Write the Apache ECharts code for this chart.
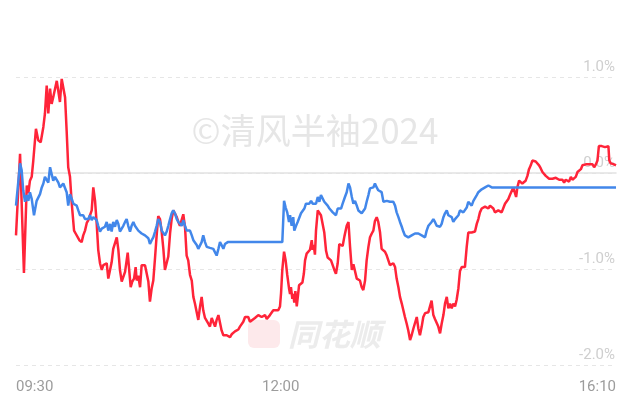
<!DOCTYPE html>
<html>
<head>
<meta charset="utf-8">
<script src="https://cdn.jsdelivr.net/npm/echarts@6/dist/echarts.min.js"></script>
<style>
html,body{margin:0;padding:0;background:#fff;}
#chart{width:624px;height:404px;}
</style>
</head>
<body>
<div id="chart"></div>
<script>
// x = minutes since 09:30 on the HK trading clock (0..340), y = change in %
const xTickMinutes = [0, 150, 340];
const xTickLabels = ['09:30', '12:00', '16:10'];
const yTicks = [-2, -1, 0, 1];

const redAM = [[0,-0.65],[2.3,0.20],[2.8,0.18],[4.5,-1.04],[6.1,-0.13],[7.0,-0.21],[7.9,-0.08],[8.9,-0.04],[9.8,0.13],[11.3,0.46],[12.6,0.34],[14.0,0.32],[15.5,0.48],[16.4,0.62],[17.4,0.91],[18.3,0.62],[19.3,0.88],[20.2,0.72],[21.1,0.79],[22.1,0.80],[23.1,0.96],[24.0,0.96],[24.9,0.74],[25.9,0.98],[26.8,0.96],[27.8,0.79],[28.7,0.44],[29.6,0.06],[30.6,-0.04],[31.6,-0.32],[32.9,-0.60],[33.8,-0.63],[34.7,-0.61],[35.9,-0.70],[37.2,-0.72],[38.1,-0.65],[39.1,-0.60],[40.1,-0.52],[41.0,-0.49],[41.9,-0.49],[42.9,-0.39],[43.8,-0.15],[44.8,-0.29],[45.7,-0.52],[46.6,-0.80],[47.6,-0.94],[48.6,-1.01],[49.5,-0.96],[50.4,-0.98],[51.4,-0.94],[52.3,-1.10],[53.3,-1.12],[54.2,-0.93],[55.1,-0.79],[57.1,-0.67],[58.0,-0.80],[58.9,-1.01],[59.9,-1.13],[60.8,-1.15],[61.8,-1.03],[62.7,-0.91],[63.3,-0.83],[64.0,-0.98],[65.0,-1.19],[65.9,-1.13],[66.9,-1.10],[67.8,-0.98],[68.4,-1.12],[69.3,-1.07],[70.3,-1.19],[71.2,-0.96],[72.1,-0.98],[73.1,-0.96],[74.1,-0.94],[75.0,-1.13],[75.9,-1.34],[76.9,-1.20],[77.8,-1.12],[78.8,-0.88],[79.7,-0.65],[80.6,-0.45],[81.6,-0.48],[82.6,-0.62],[83.5,-0.79],[84.4,-1.01],[85.4,-1.03],[86.3,-0.87],[87.3,-0.63],[88.2,-0.48],[89.1,-0.39],[90.1,-0.37],[91.1,-0.46],[92.0,-0.51],[92.9,-0.55],[93.9,-0.53],[94.8,-0.43],[95.8,-0.57],[96.7,-0.86],[97.6,-0.91],[98.6,-1.06],[99.6,-1.12],[100.5,-1.29],[101.4,-1.36],[102.4,-1.45],[103.3,-1.53],[104.3,-1.39],[105.2,-1.29],[106.1,-1.43],[107.1,-1.51],[108.1,-1.53],[109.0,-1.57],[109.9,-1.60],[110.9,-1.51],[111.8,-1.50],[112.8,-1.60],[113.7,-1.53],[114.7,-1.48],[115.6,-1.46],[116.5,-1.64],[117.5,-1.69],[118.4,-1.71],[119.4,-1.69],[120.3,-1.69],[121.3,-1.71],[122.2,-1.68],[123.2,-1.66],[124.1,-1.65],[125.0,-1.63],[126.0,-1.63],[126.9,-1.60],[127.9,-1.60],[128.8,-1.55],[129.8,-1.50],[131.6,-1.50],[132.6,-1.55],[133.5,-1.53],[135.4,-1.51],[137.3,-1.48],[139.2,-1.50],[141.1,-1.48],[142.1,-1.52],[143.9,-1.48],[145.8,-1.43],[146.8,-1.45],[148.6,-1.43],[149.6,-1.39],[150.2,-1.25]];

const redPM = [[150.9,-1.01],[151.9,-0.82],[152.8,-0.91],[153.7,-1.06],[154.7,-1.20],[155.3,-1.26],[155.8,-1.19],[156.6,-1.31],[157.1,-1.26],[157.7,-1.35],[158.3,-1.23],[159.1,-1.39],[159.7,-1.29],[160.4,-1.17],[161.4,-1.16],[162.3,-1.14],[163.1,-1.05],[163.8,-0.91],[164.7,-0.84],[165.6,-0.83],[166.6,-0.80],[167.6,-0.70],[168.1,-0.80],[168.7,-0.75],[169.4,-0.85],[170.0,-0.60],[171.0,-0.39],[171.9,-0.38],[172.8,-0.44],[173.8,-0.46],[174.7,-0.62],[175.7,-0.81],[176.6,-0.88],[177.6,-0.86],[178.5,-0.91],[179.5,-0.93],[180.4,-1.01],[181.3,-1.05],[182.3,-0.94],[183.2,-0.74],[184.2,-0.72],[185.1,-0.76],[186.1,-0.66],[187.4,-0.55],[188.4,-0.51],[189.3,-0.77],[190.3,-1.01],[191.2,-0.95],[192.1,-0.96],[193.1,-1.10],[194.0,-1.12],[194.9,-1.12],[195.9,-1.19],[196.8,-1.22],[197.8,-1.12],[198.7,-0.91],[199.7,-0.77],[200.6,-0.67],[201.6,-0.63],[202.5,-0.60],[203.4,-0.50],[204.4,-0.46],[205.3,-0.51],[206.3,-0.62],[207.2,-0.79],[208.2,-0.81],[209.1,-0.82],[210.1,-0.86],[211.0,-0.88],[211.9,-0.96],[212.9,-0.96],[213.8,-0.94],[214.8,-0.98],[215.7,-1.10],[216.7,-1.19],[217.6,-1.29],[218.6,-1.36],[219.5,-1.43],[220.4,-1.50],[221.4,-1.57],[222.3,-1.64],[223.3,-1.74],[224.2,-1.69],[225.2,-1.62],[226.1,-1.64],[227.1,-1.50],[228.0,-1.62],[228.9,-1.69],[229.9,-1.60],[230.8,-1.50],[231.8,-1.46],[232.7,-1.46],[233.7,-1.45],[234.6,-1.45],[235.5,-1.33],[236.5,-1.48],[237.4,-1.52],[238.4,-1.53],[239.3,-1.60],[240.3,-1.67],[241.2,-1.57],[242.2,-1.48],[243.1,-1.36],[244.1,-1.29],[245.0,-1.41],[245.9,-1.36],[246.9,-1.41],[247.8,-1.36],[248.8,-1.39],[249.7,-1.32],[250.7,-1.20],[251.6,-1.02],[252.6,-0.98],[253.5,-1.00],[254.4,-0.98],[255.4,-0.77],[256.3,-0.62],[257.3,-0.61],[258.2,-0.62],[259.2,-0.60],[260.1,-0.61],[261.1,-0.53],[262.0,-0.48],[262.9,-0.41],[263.9,-0.37],[264.8,-0.35],[265.8,-0.35],[266.7,-0.34],[267.7,-0.37],[268.6,-0.34],[269.6,-0.35],[270.5,-0.37],[271.4,-0.41],[272.4,-0.39],[273.3,-0.39],[274.3,-0.41],[275.2,-0.41],[276.2,-0.39],[277.1,-0.32],[278.1,-0.30],[279.0,-0.27],[279.9,-0.23],[280.9,-0.22],[281.8,-0.15],[282.8,-0.17],[283.4,-0.25],[284.1,-0.15],[285.1,-0.08],[286.0,-0.06],[286.9,-0.11],[287.9,-0.13],[288.8,-0.08],[289.8,-0.03],[290.7,0.04],[291.7,0.08],[292.6,0.13],[293.6,0.15],[294.5,0.12],[295.4,0.10],[296.4,0.08],[297.3,0.05],[298.3,0.01],[299.2,-0.01],[300.2,-0.03],[301.1,-0.05],[302.1,-0.06],[303.0,-0.07],[304.0,-0.06],[304.9,-0.07],[305.9,-0.05],[306.8,-0.07],[307.8,-0.07],[308.7,-0.05],[309.6,-0.07],[310.6,-0.10],[311.5,-0.07],[312.5,-0.05],[313.4,-0.09],[314.4,-0.04],[315.3,-0.07],[316.3,-0.05],[317.2,-0.04],[318.2,0.01],[319.1,0.03],[320.1,0.04],[321.0,0.08],[322.0,0.08],[322.9,0.09],[323.8,0.08],[324.8,0.09],[325.7,0.11],[326.7,0.09],[327.6,0.06],[328.6,0.09],[329.5,0.13],[330.3,0.28],[330.9,0.29],[331.9,0.28],[332.8,0.28],[333.8,0.27],[334.7,0.27],[335.7,0.28],[336.2,0.13],[337.0,0.10],[338.0,0.08],[338.9,0.09],[340,0.08]];

const blueAM = [[0,-0.34],[2.3,0.10],[3.2,0.03],[4.1,-0.18],[5.1,-0.30],[6.1,-0.23],[7.0,-0.29],[7.9,-0.20],[8.9,-0.27],[10.2,-0.44],[11.7,-0.29],[12.6,-0.29],[13.6,-0.22],[14.6,-0.15],[15.5,-0.11],[16.4,-0.04],[17.4,-0.06],[18.3,-0.10],[19.3,0.06],[20.2,-0.01],[21.1,-0.08],[22.1,-0.04],[23.1,-0.06],[24.0,-0.10],[24.9,-0.15],[25.9,-0.13],[26.8,-0.11],[27.8,-0.13],[28.7,-0.20],[29.6,-0.34],[30.6,-0.22],[31.6,-0.27],[32.5,-0.32],[33.4,-0.34],[34.4,-0.34],[35.3,-0.39],[36.3,-0.44],[37.2,-0.46],[38.1,-0.44],[39.1,-0.48],[40.1,-0.46],[41.0,-0.48],[41.9,-0.44],[42.9,-0.49],[43.8,-0.46],[44.8,-0.46],[45.7,-0.49],[46.6,-0.55],[47.6,-0.61],[48.6,-0.58],[49.5,-0.60],[50.4,-0.56],[51.4,-0.51],[52.3,-0.60],[53.3,-0.53],[54.2,-0.61],[55.1,-0.51],[56.1,-0.56],[57.1,-0.49],[58.0,-0.53],[58.9,-0.61],[59.9,-0.60],[60.8,-0.55],[61.8,-0.51],[62.7,-0.48],[63.6,-0.55],[64.6,-0.61],[65.5,-0.55],[66.5,-0.51],[67.4,-0.55],[68.4,-0.53],[69.3,-0.60],[70.3,-0.61],[71.2,-0.63],[72.1,-0.63],[73.1,-0.65],[74.1,-0.65],[75.0,-0.68],[75.9,-0.74],[76.9,-0.70],[77.8,-0.67],[78.8,-0.61],[79.7,-0.55],[80.6,-0.48],[81.6,-0.51],[82.6,-0.60],[83.5,-0.61],[84.4,-0.65],[85.4,-0.61],[86.3,-0.55],[87.3,-0.48],[88.2,-0.42],[89.1,-0.39],[90.1,-0.42],[91.1,-0.48],[92.0,-0.51],[92.9,-0.53],[93.9,-0.55],[94.8,-0.49],[95.8,-0.55],[96.7,-0.60],[97.6,-0.58],[98.6,-0.60],[99.6,-0.65],[100.5,-0.70],[101.4,-0.70],[102.4,-0.75],[103.3,-0.79],[104.3,-0.79],[105.2,-0.72],[106.1,-0.65],[107.1,-0.72],[108.1,-0.77],[109.0,-0.78],[109.9,-0.78],[110.9,-0.79],[111.8,-0.79],[112.8,-0.80],[113.7,-0.86],[114.7,-0.79],[115.6,-0.72],[116.5,-0.75],[117.5,-0.79],[118.4,-0.74],[119.4,-0.72],[120,-0.72],[150.9,-0.72]];

const bluePM = [[151.9,-0.29],[152.8,-0.36],[153.7,-0.41],[154.7,-0.51],[155.3,-0.44],[156.2,-0.55],[157.1,-0.46],[157.7,-0.60],[158.7,-0.55],[159.6,-0.51],[160.6,-0.49],[161.5,-0.42],[162.5,-0.44],[163.4,-0.37],[164.3,-0.32],[165.3,-0.30],[166.2,-0.32],[167.2,-0.29],[168.1,-0.32],[169.0,-0.30],[170.0,-0.32],[171.0,-0.25],[171.9,-0.30],[172.8,-0.23],[173.8,-0.25],[174.7,-0.30],[175.7,-0.32],[176.6,-0.34],[177.6,-0.37],[178.5,-0.36],[179.5,-0.41],[180.4,-0.39],[181.3,-0.44],[182.3,-0.37],[183.2,-0.36],[184.2,-0.37],[185.1,-0.32],[186.4,-0.25],[187.4,-0.20],[188.4,-0.11],[189.3,-0.15],[190.3,-0.25],[191.2,-0.32],[192.1,-0.29],[193.1,-0.34],[194.0,-0.39],[194.9,-0.41],[195.9,-0.42],[196.8,-0.44],[197.8,-0.37],[198.7,-0.30],[199.7,-0.23],[200.6,-0.16],[201.6,-0.16],[202.5,-0.15],[203.4,-0.11],[204.4,-0.15],[205.3,-0.18],[206.3,-0.20],[207.2,-0.20],[208.2,-0.30],[209.1,-0.30],[210.1,-0.29],[211.0,-0.30],[211.9,-0.30],[212.9,-0.32],[213.8,-0.30],[214.8,-0.34],[215.7,-0.41],[216.7,-0.46],[217.6,-0.51],[218.6,-0.56],[219.5,-0.61],[220.4,-0.65],[221.4,-0.67],[222.3,-0.67],[223.3,-0.67],[224.2,-0.65],[225.2,-0.64],[226.1,-0.63],[227.1,-0.61],[228.0,-0.63],[228.9,-0.61],[229.9,-0.65],[230.8,-0.65],[231.8,-0.67],[232.7,-0.60],[233.7,-0.55],[234.6,-0.56],[235.5,-0.51],[236.5,-0.48],[237.4,-0.51],[238.4,-0.55],[239.3,-0.56],[240.3,-0.56],[241.2,-0.53],[242.2,-0.46],[243.1,-0.42],[244.1,-0.39],[245.0,-0.44],[245.9,-0.46],[246.9,-0.46],[247.8,-0.51],[248.8,-0.48],[249.7,-0.48],[250.7,-0.44],[251.6,-0.39],[252.6,-0.37],[253.5,-0.41],[254.4,-0.39],[255.4,-0.36],[256.3,-0.30],[257.3,-0.30],[258.2,-0.34],[259.2,-0.29],[260.1,-0.27],[261.1,-0.23],[262.0,-0.20],[262.9,-0.18],[263.9,-0.17],[264.8,-0.16],[265.8,-0.15],[266.7,-0.15],[267.7,-0.13],[268.6,-0.13],[269.6,-0.15],[270,-0.15],[340,-0.15]];

const redData = redAM.concat(redPM);
const blueData = blueAM.concat(bluePM);

const chart = echarts.init(document.getElementById('chart'), null, {renderer: 'canvas'});
const FONT = 'Roboto, "Noto Sans", sans-serif';

chart.setOption({
  animation: false,
  backgroundColor: '#ffffff',
  grid: {left: 16, right: 8, top: 77, bottom: 39, containLabel: false, outerBoundsMode: 'none'},
  xAxis: {
    type: 'value',
    min: 0,
    max: 340,
    interval: 10,
    axisLine: {show: true, lineStyle: {color: '#e2e2e2', width: 1.5}},
    axisTick: {show: false},
    splitLine: {show: false},
    axisLabel: {
      customValues: xTickMinutes,
      showMinLabel: true,
      showMaxLabel: true,
      alignMinLabel: 'left',
      alignMaxLabel: 'right',
      formatter: function (v) {
        const i = xTickMinutes.indexOf(Math.round(v));
        return i >= 0 ? xTickLabels[i] : '';
      },
      color: '#9c9c9c',
      fontSize: 15,
      fontFamily: FONT,
      margin: 15
    }
  },
  yAxis: {
    type: 'value',
    position: 'right',
    min: yTicks[0],
    max: yTicks[yTicks.length - 1],
    interval: 1,
    axisLine: {show: false},
    axisTick: {show: false},
    splitLine: {show: true, lineStyle: {color: '#e6e6e6', type: [4, 4], width: 1}},
    axisLabel: {
      inside: true,
      margin: 1,
      verticalAlign: 'bottom',
      padding: [0, 0, 2, 0],
      formatter: function (v) { return v.toFixed(1) + '%'; },
      color: '#cfcfcf',
      fontSize: 15,
      fontFamily: FONT
    }
  },
  graphic: [
    {
      type: 'text', z: 0, x: 315, y: 131,
      style: {text: '©清风半袖2024', fill: '#e6e6e6', fontSize: 35,
        fontFamily: '"Noto Sans CJK SC", Roboto, sans-serif', align: 'center', verticalAlign: 'middle'}
    },
    {
      type: 'rect', z: 0,
      shape: {x: 248, y: 320, width: 32, height: 28, r: 6},
      style: {fill: '#fde9eb'}
    },
    {
      type: 'text', z: 0, x: 288, y: 334,
      style: {text: '同花顺', fill: '#ececec', fontSize: 31, fontStyle: 'italic', fontWeight: 'bold',
        fontFamily: '"Noto Sans CJK SC", sans-serif', align: 'left', verticalAlign: 'middle'}
    }
  ],
  series: [
    {
      type: 'line', name: 'red', data: redData, showSymbol: false, symbol: 'none',
      lineStyle: {color: '#ff2439', width: 2.5}, itemStyle: {color: '#ff2439'}, z: 3
    },
    {
      type: 'line', name: 'blue', data: blueData, showSymbol: false, symbol: 'none',
      lineStyle: {color: '#4287ea', width: 2.5}, itemStyle: {color: '#4287ea'}, z: 4
    }
  ]
});
</script>
</body>
</html>
